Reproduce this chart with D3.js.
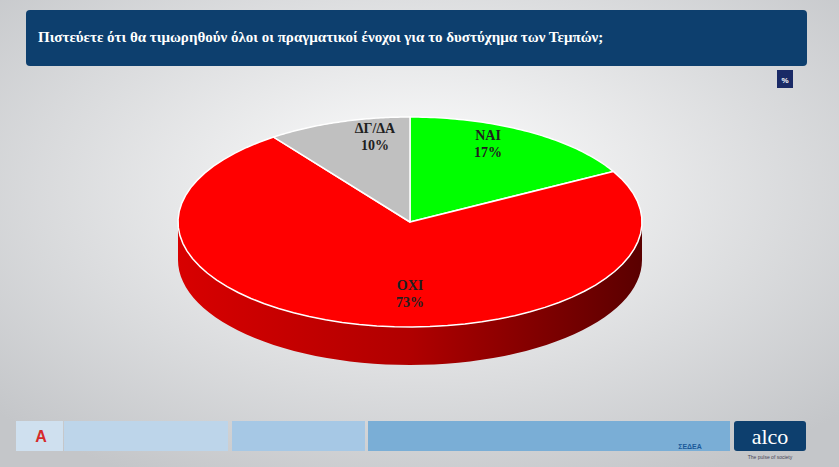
<!DOCTYPE html><html><head><meta charset="utf-8"><script src="https://cdn.jsdelivr.net/npm/d3@7"></script>
<style>body{margin:0}svg{display:block}</style></head><body><svg id="c" width="839" height="467"></svg>
<script>
const title="Πιστεύετε ότι θα τιμωρηθούν όλοι οι πραγματικοί ένοχοι για το δυστύχημα των Τεμπών;";
const categories=["ΝΑΙ","ΟΧΙ","ΔΓ/ΔΑ"];
const values=[17,73,10];
const colors=["#00ff00","#ff0000","#c0c0c0"];
const sideColors=["#00b000","#a00000","#8a8a8a"];
const labelPos=[[488,140],[410,290],[375,133]];

const svg=d3.select("#c");
const defs=svg.append("defs");
const bg=defs.append("radialGradient").attr("id","bg").attr("cx","50%").attr("cy","40%").attr("r","70%");
bg.append("stop").attr("offset","0").attr("stop-color","#ffffff");
bg.append("stop").attr("offset","1").attr("stop-color","#c4c6c9");
svg.append("rect").attr("width",839).attr("height",467).attr("fill","url(#bg)");
const sg=defs.append("linearGradient").attr("id","side").attr("x1","0").attr("x2","1");
sg.append("stop").attr("offset","0").attr("stop-color","#d80000");
sg.append("stop").attr("offset","0.5").attr("stop-color","#b00000");
sg.append("stop").attr("offset","1").attr("stop-color","#5a0000");

svg.append("rect").attr("x",26).attr("y",10).attr("width",781).attr("height",56).attr("rx",4).attr("fill","#0d3f6e");
svg.append("text").attr("x",38).attr("y",42).attr("fill","#fff").attr("font-family","Liberation Serif").attr("font-weight","bold").attr("font-size",15).text(title);
svg.append("rect").attr("x",777).attr("y",70).attr("width",16).attr("height",18).attr("fill","#1a2a66");
svg.append("text").attr("x",785).attr("y",83).attr("text-anchor","middle").attr("fill","#fff").attr("font-family","Liberation Sans").attr("font-weight","bold").attr("font-size",8).text("%");

const cx=410,cy=222,rx=232,ry=105,depth=38;
const pie=d3.pie().sort(null)(values);
const pt=(t,dy=0)=>[cx+rx*Math.sin(t),cy-ry*Math.cos(t)+dy];
function arcPath(a0,a1,dy){const n=60;let s="";for(let i=0;i<=n;i++){const p=pt(a0+(a1-a0)*i/n,dy);s+=(i?"L":"M")+p[0]+","+p[1];}return s;}
// sides
pie.forEach((d,i)=>{
  const a0=Math.max(d.startAngle,Math.PI/2),a1=Math.min(d.endAngle,3*Math.PI/2);
  if(a1<=a0)return;
  const n=60;let pts=[];
  for(let k=0;k<=n;k++)pts.push(pt(a0+(a1-a0)*k/n));
  for(let k=n;k>=0;k--)pts.push(pt(a0+(a1-a0)*k/n,depth));
  svg.append("path").attr("d","M"+pts.map(p=>p.join(",")).join("L")+"Z").attr("fill",i===1?"url(#side)":sideColors[i]);
});
// tops
pie.forEach((d,i)=>{
  svg.append("path").attr("d",`M${cx},${cy}`+arcPath(d.startAngle,d.endAngle,0).replace("M","L")+"Z")
   .attr("fill",colors[i]).attr("stroke","#ffffff").attr("stroke-width",1.5).attr("stroke-linejoin","round");
});
pie.forEach((d,i)=>{
  const t=svg.append("text").attr("text-anchor","middle").attr("font-family","Liberation Serif").attr("font-weight","bold").attr("font-size",14).attr("fill","#202020");
  t.append("tspan").attr("x",labelPos[i][0]).attr("y",labelPos[i][1]).text(categories[i]);
  t.append("tspan").attr("x",labelPos[i][0]).attr("dy",17).text(d.data+"%");
});

// footer
const boxes=[[16,47,"#cfe0ef"],[64,164,"#bdd5ea"],[232,133,"#a6c8e5"],[368,362,"#7aaed6"]];
boxes.forEach(b=>svg.append("rect").attr("x",b[0]).attr("y",421).attr("width",b[1]).attr("height",30).attr("fill",b[2]));
svg.append("text").attr("x",41).attr("y",442).attr("text-anchor","middle").attr("fill","#d62b2b").attr("font-family","Liberation Sans").attr("font-weight","bold").attr("font-size",16).text("A");
svg.append("text").attr("x",690).attr("y",449).attr("text-anchor","middle").attr("fill","#1a5a9a").attr("font-family","Liberation Sans").attr("font-size",7).attr("font-weight","bold").text("ΣΕΔΕΑ");
svg.append("rect").attr("x",734).attr("y",421).attr("width",72).attr("height",30).attr("rx",3).attr("fill","#0d3f6e");
svg.append("text").attr("x",770).attr("y",444).attr("text-anchor","middle").attr("fill","#fff").attr("font-family","Liberation Serif").attr("font-size",22).text("alco");
svg.append("text").attr("x",770).attr("y",459).attr("text-anchor","middle").attr("fill","#445").attr("font-family","Liberation Sans").attr("font-size",5).text("The pulse of society");
</script></body></html>
